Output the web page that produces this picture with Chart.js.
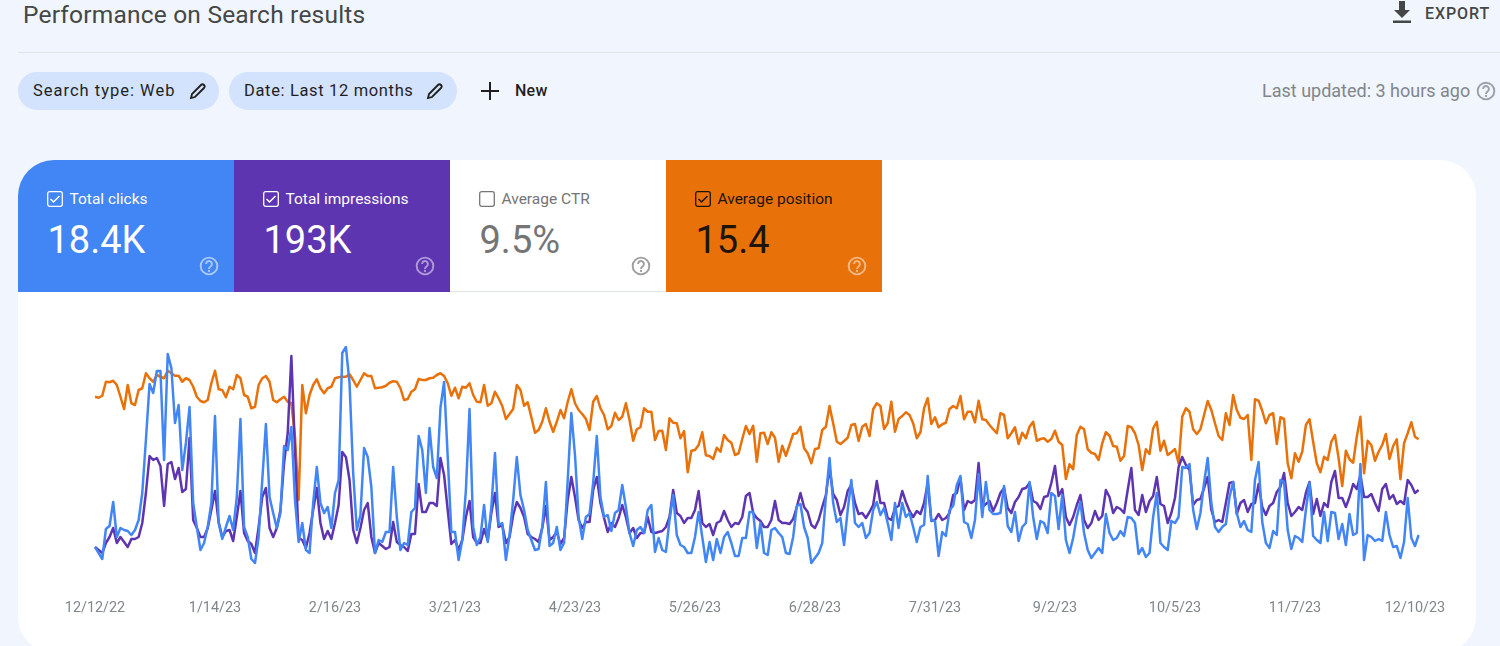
<!DOCTYPE html>
<html><head><meta charset="utf-8">
<script src="https://cdn.jsdelivr.net/npm/chart.js@4"></script>
<style>
html,body{margin:0;padding:0;width:1500px;height:646px;overflow:hidden;background:#f1f5fd;font-family:Roboto,sans-serif;color:#3c4043}
.a{position:absolute;white-space:nowrap}
#title{left:23px;top:0;font-size:24.5px;line-height:30px;color:#444746;letter-spacing:.2px}
#export{left:1425px;top:5px;font-size:16px;font-weight:500;line-height:18px;color:#444746;letter-spacing:.9px}
#rule{left:18px;top:52px;width:1482px;height:1px;background:#e0e3e7}
.chip{top:72px;height:38px;border-radius:19px;background:#d3e3fd}
.chip span{position:absolute;left:15px;top:0;line-height:37px;font-size:16.5px;color:#1f1f1f}
#new{left:515px;top:82px;font-size:16px;font-weight:500;line-height:18px;color:#1f1f1f;letter-spacing:.25px}
#upd{left:1262px;top:81px;font-size:18px;line-height:20px;color:#80868b}
#card{left:18px;top:160px;width:1458px;height:493px;background:#fff;border-radius:36px}
.tile{top:160px;width:216px;height:132px;overflow:hidden}
.tile .lab{position:absolute;left:51.5px;top:29px;font-size:15.5px;line-height:20px}
.tile .val{position:absolute;left:29.5px;top:57px;font-size:38px;line-height:46px}
.tile svg{position:absolute}
#wrap{left:18px;top:292px;width:1458px;height:354px}
</style></head><body>
<div class="a" id="card"></div>
<div class="a" id="title">Performance on Search results</div>
<svg class="a" style="left:1390px;top:0" width="24" height="24" viewBox="0 0 24 24"><path fill="#444746" d="M9 1h6v9h5l-8 8-8-8h5zM3 20.5h18V23H3z"/></svg>
<div class="a" id="export">EXPORT</div>
<div class="a" id="rule"></div>
<div class="a chip" style="left:18px;width:201px"><span style="letter-spacing:1px">Search type: Web</span>
<svg class="a" style="left:171px;top:10px" width="18" height="18" viewBox="0 0 18 18"><path fill="none" stroke="#1f1f1f" stroke-width="1.8" d="M2 16l1-4L12 3c1-1 2-1 3 0s1 2 0 3L6 15z"/></svg></div>
<div class="a chip" style="left:229px;width:228px"><span style="letter-spacing:.65px">Date: Last 12 months</span>
<svg class="a" style="left:197px;top:10px" width="18" height="18" viewBox="0 0 18 18"><path fill="none" stroke="#1f1f1f" stroke-width="1.8" d="M2 16l1-4L12 3c1-1 2-1 3 0s1 2 0 3L6 15z"/></svg></div>
<svg class="a" style="left:480px;top:81px" width="20" height="20" viewBox="0 0 20 20"><path stroke="#1f1f1f" stroke-width="2" d="M10 1v18M1 10h18"/></svg>
<div class="a" id="new">New</div>
<div class="a" id="upd">Last updated: 3 hours ago</div>
<svg class="a" style="left:1476px;top:81px;color:#9aa0a6" width="20" height="20" viewBox="0 0 24 24"><use href="#q"/></svg>
<svg width="0" height="0" style="position:absolute"><defs>
<g id="q"><circle cx="12" cy="12" r="10" fill="none" stroke="currentColor" stroke-width="2.3"/><path fill="none" stroke="currentColor" stroke-width="2.3" d="M8.5 9.5a3.5 3.5 0 1 1 5.6 2.8c-1.3 1-2.1 1.6-2.1 3.2"/><circle cx="12" cy="18" r="1.4" fill="currentColor"/></g>
</defs></svg>

<div class="a tile" style="left:18px;background:#4285f4;color:#fff;border-top-left-radius:36px">
<svg style="left:29px;top:31px" width="16" height="16" viewBox="0 0 16 16"><rect x=".7" y=".7" width="14.6" height="14.6" rx="2" fill="none" stroke="#fff" stroke-width="1.3"/><path d="M3.5 8l3 3 6-6" fill="none" stroke="#fff" stroke-width="1.5"/></svg>
<div class="lab">Total clicks</div><div class="val">18.4K</div>
<svg style="left:181px;top:96px;color:rgba(255,255,255,.55)" width="20" height="20" viewBox="0 0 24 24"><use href="#q"/></svg></div>
<div class="a tile" style="left:234px;background:#5e35b1;color:#fff">
<svg style="left:29px;top:31px" width="16" height="16" viewBox="0 0 16 16"><rect x=".7" y=".7" width="14.6" height="14.6" rx="2" fill="none" stroke="#fff" stroke-width="1.3"/><path d="M3.5 8l3 3 6-6" fill="none" stroke="#fff" stroke-width="1.5"/></svg>
<div class="lab">Total impressions</div><div class="val">193K</div>
<svg style="left:181px;top:96px;color:rgba(255,255,255,.5)" width="20" height="20" viewBox="0 0 24 24"><use href="#q"/></svg></div>
<div class="a tile" style="left:450px;background:#fff;color:#757575;box-sizing:border-box;border-bottom:1px solid #e0e3e7">
<svg style="left:29px;top:31px" width="16" height="16" viewBox="0 0 16 16"><rect x=".7" y=".7" width="14.6" height="14.6" rx="2" fill="none" stroke="#757575" stroke-width="1.3"/></svg>
<div class="lab">Average CTR</div><div class="val">9.5%</div>
<svg style="left:181px;top:96px;color:#9e9e9e" width="20" height="20" viewBox="0 0 24 24"><use href="#q"/></svg></div>
<div class="a tile" style="left:666px;background:#e8710a;color:#1f1408">
<svg style="left:29px;top:31px" width="16" height="16" viewBox="0 0 16 16"><rect x=".7" y=".7" width="14.6" height="14.6" rx="2" fill="none" stroke="#1f1408" stroke-width="1.3"/><path d="M3.5 8l3 3 6-6" fill="none" stroke="#1f1408" stroke-width="1.5"/></svg>
<div class="lab">Average position</div><div class="val">15.4</div>
<svg style="left:181px;top:96px;color:rgba(255,255,255,.5)" width="20" height="20" viewBox="0 0 24 24"><use href="#q"/></svg></div>

<div class="a" id="wrap"><canvas id="c" width="1458" height="354"></canvas></div>
<script>
const tickLabels=["12/12/22","1/14/23","2/16/23","3/21/23","4/23/23","5/26/23","6/28/23","7/31/23","9/2/23","10/5/23","11/7/23","12/10/23"];
const clicks=[28,22,16,46,49,73,38,47,45,44,40,45,55,82,135,191,182,204,204,115,221,207,152,170,105,132,168,72,48,25,32,48,72,159,52,36,48,59,45,78,156,48,38,16,12,38,95,151,78,62,47,62,129,125,148,75,33,52,25,22,72,108,72,62,68,47,82,95,222,228,192,102,45,60,
127,118,88,22,35,33,43,43,108,58,25,32,30,63,67,139,125,82,147,108,97,167,193,118,43,43,15,35,85,166,48,30,38,70,33,68,122,50,52,15,40,75,118,80,65,45,35,25,26,48,93,29,32,48,25,32,95,162,120,58,36,58,61,92,139,78,58,60,44,62,65,
90,68,42,29,45,48,42,65,70,23,37,25,23,55,80,40,30,28,22,22,38,63,38,13,33,15,36,22,38,43,32,19,19,37,37,63,63,27,52,22,20,45,47,42,38,22,21,38,69,71,48,37,12,17,22,32,78,117,72,53,57,30,65,95,52,48,52,37,42,65,73,60,67,52,
35,72,47,72,58,62,48,33,48,50,99,55,54,19,43,39,65,69,90,99,53,51,37,55,101,58,93,65,61,61,62,89,49,43,63,34,48,52,93,58,36,54,52,42,82,79,46,80,35,22,37,58,73,42,25,17,22,27,22,61,42,35,37,44,39,58,57,52,21,27,18,22,58,82,
32,28,25,54,52,58,108,107,111,65,46,62,92,117,72,48,43,48,51,78,93,62,48,54,45,43,95,113,53,32,27,44,40,95,93,45,26,39,37,33,65,92,39,35,32,63,34,63,62,36,51,30,61,40,42,111,15,40,38,34,36,34,63,40,28,29,17,33,77,37,29,40];
const impressions=[224,200,176,256,304,376,256,304,264,224,288,288,304,416,656,952,920,936,872,552,888,904,768,856,664,688,1096,440,376,304,304,376,520,672,424,304,352,360,272,464,672,336,272,248,176,384,624,696,376,304,376,520,896,1136,1752,1000,296,280,216,336,520,696,416,288,352,288,416,560,984,944,760,360,256,376,
520,576,304,176,256,232,208,224,424,264,240,224,192,328,328,728,504,504,576,576,552,936,800,520,248,280,200,280,464,592,304,256,256,368,280,496,656,384,400,256,304,480,584,536,464,328,304,288,264,376,552,280,304,344,248,296,600,784,624,440,376,424,424,680,784,576,456,344,416,384,456,
560,464,336,376,296,336,336,464,344,336,344,352,384,464,680,496,472,416,456,456,520,672,416,384,408,320,416,432,512,440,384,416,408,464,632,656,496,456,432,384,384,440,592,440,416,416,408,448,544,656,544,504,400,376,440,544,640,856,648,600,480,544,672,720,576,488,496,456,504,560,752,576,576,456,
440,536,552,672,584,512,464,512,488,576,736,432,440,488,440,456,496,640,656,776,520,592,576,600,896,544,568,592,512,576,656,696,536,496,584,624,688,696,736,592,576,528,624,632,736,872,632,688,464,400,464,560,640,440,376,416,512,440,472,680,624,496,544,528,496,680,856,520,480,640,504,592,632,784,
568,552,416,496,616,864,944,880,840,560,600,608,696,784,520,424,440,424,576,736,744,488,576,600,504,568,576,728,544,480,552,576,664,704,816,576,472,504,544,520,656,744,488,608,472,576,544,744,832,616,616,544,624,728,688,800,624,624,648,576,512,688,728,608,640,568,592,568,760,720,656,680];
const position=[14.47,14.51,14.43,13.87,13.89,13.83,14.00,14.47,14.96,14.00,14.73,14.80,14.20,14.13,13.53,13.73,13.87,13.60,13.67,13.73,13.43,13.53,13.63,13.63,13.87,13.73,13.80,14.07,14.47,14.64,14.69,14.60,13.93,13.43,14.17,14.20,14.49,14.07,14.17,13.60,13.73,14.40,14.47,14.93,14.87,14.00,13.73,13.64,13.87,14.60,14.69,14.57,14.47,14.67,14.73,16.07,18.60,14.00,15.13,14.40,14.00,13.77,14.13,14.33,14.13,14.07,13.73,13.69,13.67,13.67,13.57,13.80,14.07,13.80,
13.53,13.64,13.64,14.13,14.11,14.09,14.03,13.91,13.85,13.87,14.13,14.60,14.56,14.27,14.17,13.76,13.80,13.80,13.73,13.71,13.60,13.53,13.64,13.93,14.43,14.11,14.53,14.07,14.11,13.93,14.40,14.67,14.69,14.00,14.83,14.73,14.27,14.53,14.84,15.36,15.16,14.96,14.00,14.20,14.83,14.69,15.29,15.91,15.80,15.47,14.93,15.47,15.87,15.47,15.00,15.33,14.67,14.17,14.73,15.00,15.16,15.36,15.80,14.67,14.44,14.93,15.20,15.77,15.64,15.11,15.40,15.27,
14.73,15.40,16.23,15.77,15.69,14.93,15.07,15.07,16.20,15.84,15.83,16.60,15.33,15.51,15.53,16.13,15.84,17.49,16.63,16.60,16.40,15.89,16.81,16.84,16.96,16.51,16.67,16.00,16.20,16.31,16.80,16.73,16.16,15.64,15.96,15.63,17.07,15.93,15.91,16.36,15.89,16.11,17.07,16.43,16.83,16.40,15.96,15.93,15.67,16.53,16.73,17.13,16.56,16.53,15.80,15.67,14.84,15.53,16.27,16.36,16.24,16.11,15.60,15.56,16.24,15.67,15.56,16.04,14.97,14.73,14.84,15.76,15.53,
14.67,15.87,15.36,15.24,15.09,15.20,15.53,16.13,15.89,14.93,14.53,15.56,15.29,15.69,15.57,15.51,14.96,14.84,14.93,14.44,15.37,15.07,15.07,15.49,14.63,15.37,15.40,15.60,15.77,15.93,15.13,15.20,16.13,15.93,15.69,16.36,15.91,16.13,15.67,15.47,16.23,16.16,16.13,16.27,16.16,15.83,16.27,16.40,17.76,17.17,17.37,16.00,15.67,15.77,16.57,16.71,16.76,17.00,16.33,15.89,16.03,16.44,16.47,17.03,16.84,15.64,15.69,15.93,16.40,17.40,16.57,16.76,15.73,15.47,16.63,16.23,16.80,
16.69,16.56,17.13,15.27,14.93,15.07,15.77,15.96,15.77,15.20,14.64,15.00,15.53,16.04,16.20,15.13,15.60,14.40,15.00,15.31,15.36,15.20,17.00,14.57,14.63,15.03,15.53,15.20,15.13,16.36,15.29,15.36,17.13,17.73,16.73,17.07,16.67,15.60,15.37,16.27,17.13,17.49,16.87,17.00,16.27,16.00,16.93,18.04,16.63,16.97,17.11,16.07,15.27,17.53,16.23,16.40,17.03,16.67,16.40,15.96,16.96,16.44,16.17,17.77,16.33,15.93,15.49,16.07,16.17];
const tickEvery=33;
const days=clicks.map((_,i)=>i);
const lineStyle={borderWidth:2.5,pointRadius:0,tension:0,borderJoinStyle:'round'};
new Chart(document.getElementById('c'),{
 type:'line',
 data:{labels:days,datasets:[
  {label:'Total clicks',data:clicks,borderColor:'#4285f4',yAxisID:'yC',...lineStyle},
  {label:'Total impressions',data:impressions,borderColor:'#5e35b1',yAxisID:'yI',...lineStyle},
  {label:'Average position',data:position,borderColor:'#e8710a',yAxisID:'yP',...lineStyle}
 ]},
 options:{
  responsive:false,animation:false,
  layout:{padding:{left:77,right:57.4,top:43,bottom:0}},
  plugins:{legend:{display:false},tooltip:{enabled:false}},
  scales:{
   x:{type:'category',offset:false,grid:{display:false,drawTicks:false},border:{display:false},
      afterFit(s){s.height=71;},
      ticks:{autoSkip:false,maxRotation:0,minRotation:0,padding:25,color:'#80868b',font:{family:'Roboto',size:14.4},
       callback(v,i){return i%tickEvery===0?(tickLabels[i/tickEvery]||''):'';}}},
   yC:{display:false,min:0,max:240},
   yI:{display:false,min:0,max:1920},
   yP:{display:false,min:12,max:21.6,reverse:true}
  }
 }
});
</script>
</body></html>
